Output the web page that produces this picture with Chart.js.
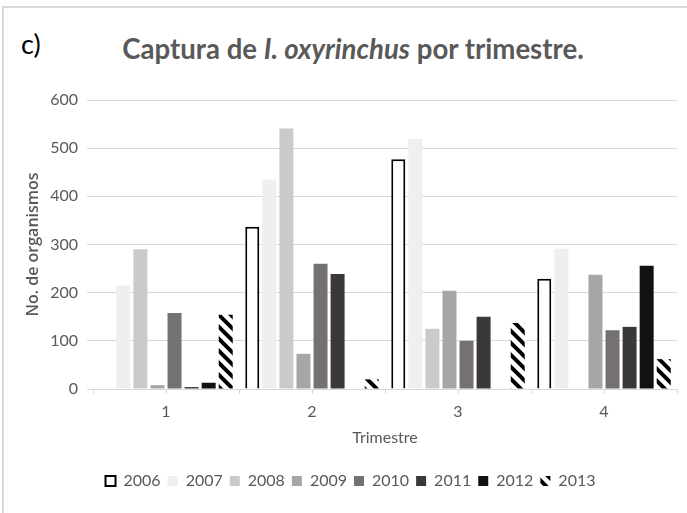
<!DOCTYPE html>
<html>
<head>
<meta charset="utf-8">
<script src="https://cdn.jsdelivr.net/npm/chart.js@4.4.1/dist/chart.umd.min.js"></script>
<style>
    html, body { margin: 0; background: #fff; }
    #wrap { position: relative; width: 687px; height: 513px; overflow: hidden; }
    #frame { position: absolute; left: 2px; top: 6px; right: -4px; bottom: -4px;
             border-top: 2px solid #d9d9d9; border-left: 2px solid #d9d9d9; }
    #tag { position: absolute; left: 21px; top: 27px; color: #000;
           font: 27px Lato, sans-serif; }
    #title { position: absolute; left: 353px; top: 32px; transform: translateX(-50%);
             white-space: nowrap; color: #595959;
             font: bold 27.6px Lato, sans-serif; }
    canvas { position: absolute; left: 0; top: 0; }
</style>
</head>
<body>
<div id="wrap">
    <div id="frame"></div>
    <div id="tag">c)</div>
    <div id="title">Captura de <i>I. oxyrinchus</i> por trimestre.</div>
    <canvas id="chart" width="687" height="513"></canvas>
</div>
<script>
// quarters on the x axis, one series per year
const quarters = ['1', '2', '3', '4'];
const years = ['2006', '2007', '2008', '2009', '2010', '2011', '2012', '2013'];

const s2006 = [0, 337, 477, 229];
const s2007 = [215, 435, 519, 291];
const s2008 = [290, 541, 125, 0];
const s2009 = [8, 73, 204, 237];
const s2010 = [158, 260, 100, 122];
const s2011 = [4, 239, 150, 129];
const s2012 = [13, 0, 0, 256];
const s2013 = [154, 20, 137, 62];

const yTicks = [0, 100, 200, 300, 400, 500, 600];

const grey = '#595959';
const gridCol = '#d9d9d9';

// black / white diagonal hatch for 2013
function hatch() {
    const n = 12;
    const c = document.createElement('canvas');
    c.width = n; c.height = n;
    const g = c.getContext('2d');
    g.fillStyle = '#fff';
    g.fillRect(0, 0, n, n);
    g.strokeStyle = '#000';
    g.lineWidth = 4;
    g.beginPath();
    g.moveTo(-n, -n); g.lineTo(2 * n, 2 * n);
    g.moveTo(-n, 0); g.lineTo(n, 2 * n);
    g.moveTo(0, -n); g.lineTo(2 * n, n);
    g.stroke();
    return g.createPattern(c, 'repeat');
}

const series = [s2006, s2007, s2008, s2009, s2010, s2011, s2012, s2013];
const fills = ['#ffffff', '#efefef', '#cacaca', '#a6a6a6', '#767171', '#3b3838', '#111111', hatch()];

const datasets = series.map((d, i) => ({
    label: years[i],
    data: d,
    backgroundColor: fills[i],
    borderColor: i === 0 ? '#000' : fills[i],
    borderWidth: i === 0 ? 2 : 0,
    categoryPercentage: 0.935,
    barPercentage: 0.82
}));

// small tick marks under each category centre, like the original axis
const centreTicks = {
    id: 'centreTicks',
    afterDraw(chart) {
        const x = chart.scales.x;
        const ctx = chart.ctx;
        ctx.save();
        ctx.strokeStyle = gridCol;
        ctx.lineWidth = 1;
        ctx.beginPath();
        quarters.forEach((q, i) => {
            const px = Math.round(x.getPixelForValue(i)) + 0.5;
            ctx.moveTo(px, x.top);
            ctx.lineTo(px, x.top + 5);
        });
        ctx.stroke();
        ctx.restore();
    }
};

new Chart(document.getElementById('chart').getContext('2d'), {
    type: 'bar',
    data: { labels: quarters, datasets },
    plugins: [centreTicks],
    options: {
        responsive: false,
        animation: false,
        layout: { padding: { top: 100, left: 24, right: 10, bottom: 14 } },
        scales: {
            x: {
                afterFit: s => { s.height = 77; },
                grid: { drawOnChartArea: false, color: gridCol, tickLength: 5, offset: true },
                border: { color: gridCol },
                ticks: { color: grey, padding: 8, font: { family: 'Lato', size: 16 } },
                title: {
                    display: true, text: 'Trimestre', color: grey, padding: { top: 0, bottom: 19 },
                    font: { family: 'Lato', size: 16 }
                }
            },
            y: {
                min: 0, max: 600,
                afterFit: s => { s.width = 69; },
                afterBuildTicks: s => { s.ticks = yTicks.map(v => ({ value: v })); },
                grid: { color: gridCol, tickLength: 6 },
                border: { display: false },
                ticks: { color: grey, padding: 9, font: { family: 'Lato', size: 16 } },
                title: {
                    display: true, text: 'No. de organismos', color: grey, padding: { top: 0, bottom: 6 },
                    font: { family: 'Open Sans', size: 16, weight: '600' }
                }
            }
        },
        plugins: {
            legend: {
                position: 'bottom',
                labels: {
                    color: grey, boxWidth: 10, boxHeight: 10, padding: 7,
                    font: { family: 'Lato', size: 16 }
                }
            },
            tooltip: { enabled: false }
        }
    }
});
</script>
</body>
</html>
